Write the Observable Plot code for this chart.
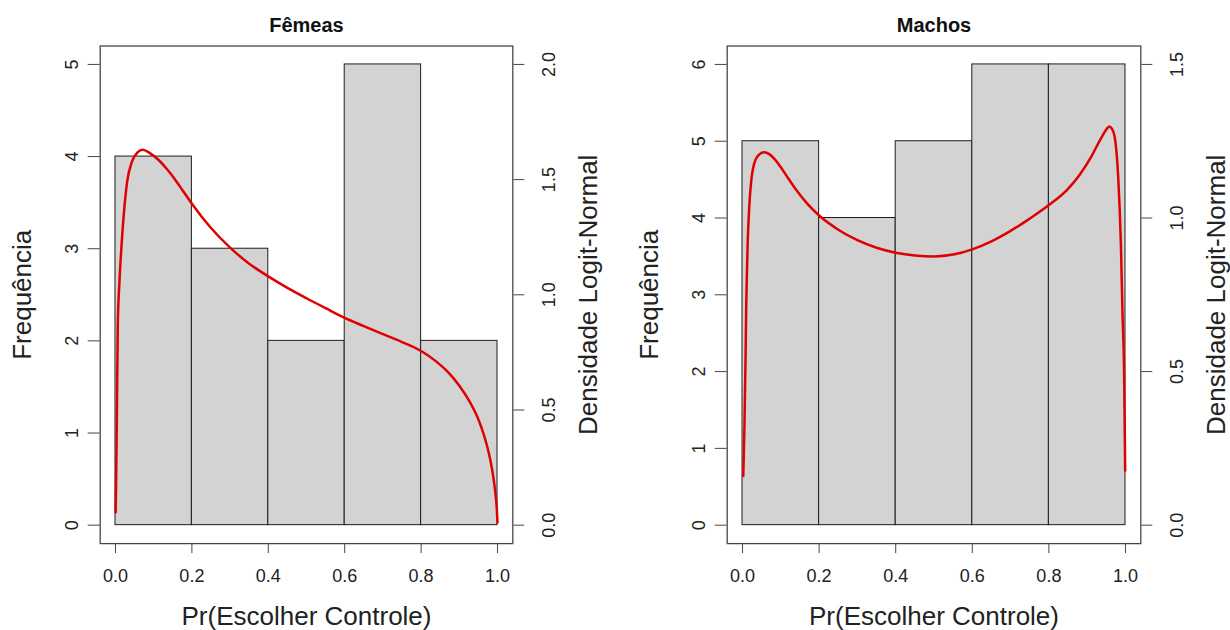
<!DOCTYPE html>
<html>
<head>
<meta charset="utf-8">
<script src="https://cdn.jsdelivr.net/npm/d3@7"></script>
<script src="https://cdn.jsdelivr.net/npm/@observablehq/plot@0.6"></script>
<style>
  html, body { margin: 0; padding: 0; background: #ffffff; }
  #wrap { position: relative; width: 1230px; height: 630px; overflow: hidden; background: #ffffff; }
  #wrap svg { position: absolute; top: 0; overflow: visible; }
</style>
</head>
<body>
<div id="wrap"></div>
<script>
// ---------- data ----------
const binEdges = [0, 0.2, 0.4, 0.6, 0.8, 1.0];
const femeasCounts = [4, 3, 2, 5, 2];
const machosCounts = [5, 4, 5, 6, 6];

const xTicks = [0, 0.2, 0.4, 0.6, 0.8, 1.0];
const femeasCountTicks = [0, 1, 2, 3, 4, 5];
const femeasDensityTicks = [0, 0.5, 1.0, 1.5, 2.0];
const machosCountTicks = [0, 1, 2, 3, 4, 5, 6];
const machosDensityTicks = [0, 0.5, 1.0, 1.5];

// logit-normal density curves
const femeasCurveX = [0.0005, 0.0015, 0.0035, 0.006, 0.0105, 0.0157, 0.0218, 0.0305, 0.0436, 0.0575, 0.0715,
  0.09, 0.113, 0.135, 0.154, 0.175, 0.20, 0.25, 0.30, 0.35, 0.40, 0.45, 0.50, 0.55, 0.60, 0.65, 0.70, 0.75, 0.80,
  0.84, 0.87, 0.90, 0.925, 0.945, 0.96, 0.972, 0.982, 0.99, 0.995, 0.998, 1.0];
const femeasCurveD = [0.056, 0.165, 0.45, 0.87, 1.06, 1.21, 1.35, 1.49, 1.58, 1.618, 1.63,
  1.615, 1.585, 1.545, 1.505, 1.455, 1.395, 1.29, 1.205, 1.135, 1.08, 1.03, 0.985, 0.942, 0.90, 0.864, 0.829, 0.795, 0.756,
  0.71, 0.665, 0.605, 0.542, 0.478, 0.414, 0.348, 0.276, 0.198, 0.13, 0.075, 0.011];

const machosCurveX = [0.002, 0.005, 0.008, 0.0095, 0.0115, 0.0135, 0.0165, 0.0227, 0.034, 0.045, 0.0557,
  0.07, 0.085, 0.10, 0.12, 0.14, 0.16, 0.18, 0.20, 0.25, 0.30, 0.35, 0.40, 0.45, 0.50, 0.55, 0.60, 0.65, 0.70, 0.75,
  0.80, 0.85, 0.88, 0.91, 0.935, 0.95, 0.957, 0.965, 0.972, 0.981, 0.988, 0.992, 0.9966, 0.9992];
const machosCurveD = [0.16, 0.32, 0.55, 0.70, 0.82, 0.92, 1.01, 1.12, 1.19, 1.208, 1.214,
  1.208, 1.19, 1.165, 1.128, 1.092, 1.06, 1.032, 1.008, 0.962, 0.928, 0.903, 0.887, 0.878, 0.875, 0.881, 0.898, 0.924, 0.958, 0.998,
  1.042, 1.095, 1.14, 1.198, 1.257, 1.288, 1.298, 1.29, 1.263, 1.133, 0.916, 0.70, 0.48, 0.178];

const titles = ["Fêmeas", "Machos"];
const xLabel = "Pr(Escolher Controle)";
const yLabel = "Frequência";
const y2Label = "Densidade Logit-Normal";

// ---------- drawing ----------
const FONT = "'Liberation Sans', Arial, Helvetica, sans-serif";

function panel({title, counts, curveX, curveD, countTicks, densTicks, left, marginLeft, marginRight}) {
  const yMax = d3.max(countTicks);
  const dMax = d3.max(densTicks);
  const k = yMax / dMax; // density -> count-axis units (secondary axis)
  const bins = counts.map((c, i) => ({x1: binEdges[i], x2: binEdges[i + 1], count: c}));
  const curve = curveX.map((x, i) => ({x, d: curveD[i]}));
  const svg = Plot.plot({
    width: 615,
    height: 630,
    marginLeft,
    marginRight,
    marginTop: 45.5,
    marginBottom: 86.9,
    x: {domain: [-0.04, 1.04]},
    y: {domain: [-0.04 * yMax, 1.04 * yMax]},
    style: {fontFamily: FONT, background: "transparent", color: "#222", overflow: "visible"},
    marks: [
      Plot.rect(bins, {x1: "x1", x2: "x2", y1: 0, y2: "count", fill: "#d3d3d3", stroke: "#1e1e1e", strokeWidth: 1}),
      Plot.line(curve, {x: "x", y: d => d.d * k, stroke: "#e00000", strokeWidth: 2.5, curve: "monotone-x"}),
      Plot.frame({stroke: "#474747", strokeWidth: 1.3}),
      Plot.axisX(xTicks, {anchor: "bottom", tickSize: 10, tickPadding: 16, tickFormat: d3.format(".1f"),
        fontSize: 18, label: null, stroke: "#474747"}),
      Plot.axisY(countTicks, {anchor: "left", tickSize: 12, tickPadding: 10, tickRotate: -90,
        textAnchor: "middle", lineAnchor: "bottom", tickFormat: d => String(d),
        fontSize: 18, label: null, stroke: "#474747"}),
      Plot.axisY(densTicks.map(t => t * k), {anchor: "right", tickSize: 11, tickPadding: 18, tickRotate: -90,
        textAnchor: "middle", lineAnchor: "top", tickFormat: v => (v / k).toFixed(1),
        fontSize: 18, label: null, stroke: "#474747"}),
      Plot.text([title], {frameAnchor: "top", dy: -20.5, lineAnchor: "middle", textAnchor: "middle",
        fontWeight: "bold", fontSize: 20, fill: "#111"}),
      Plot.text([xLabel], {frameAnchor: "bottom", dy: 73.5, lineAnchor: "middle", textAnchor: "middle",
        fontSize: 26, fill: "#222"}),
      Plot.text([yLabel], {frameAnchor: "left", dx: -78, rotate: -90, lineAnchor: "middle", textAnchor: "middle",
        fontSize: 26, fill: "#222"}),
      Plot.text([y2Label], {frameAnchor: "right", dx: 75.5, rotate: -90, lineAnchor: "middle", textAnchor: "middle",
        fontSize: 26, fill: "#222"})
    ]
  });
  svg.style.left = left + "px";
  return svg;
}

const wrap = document.getElementById("wrap");
wrap.appendChild(panel({
  title: titles[0], counts: femeasCounts, curveX: femeasCurveX, curveD: femeasCurveD,
  countTicks: femeasCountTicks, densTicks: femeasDensityTicks,
  left: 0, marginLeft: 99.7, marginRight: 102.7
}));
wrap.appendChild(panel({
  title: titles[1], counts: machosCounts, curveX: machosCurveX, curveD: machosCurveD,
  countTicks: machosCountTicks, densTicks: machosDensityTicks,
  left: 615, marginLeft: 111.7, marginRight: 89.7
}));
</script>
</body>
</html>
